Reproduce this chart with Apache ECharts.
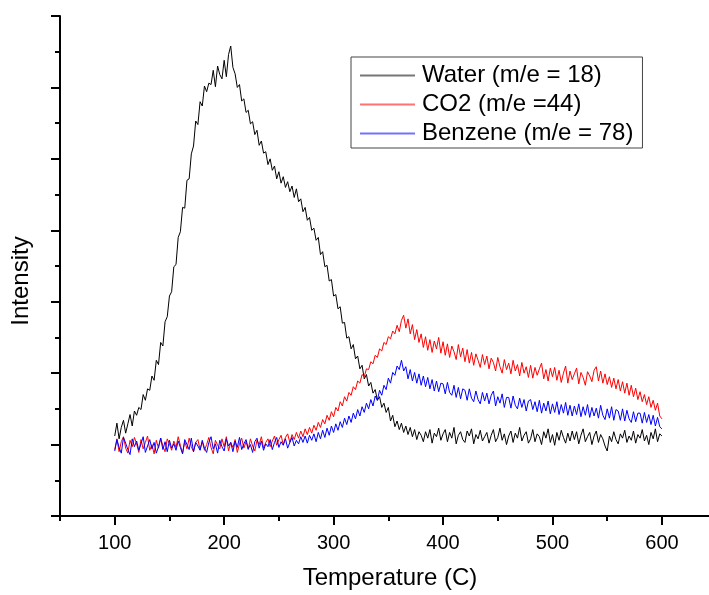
<!DOCTYPE html>
<html>
<head>
<meta charset="utf-8">
<script src="https://cdn.jsdelivr.net/npm/echarts@6/dist/echarts.min.js"></script>
<style>
html,body{margin:0;padding:0;background:#fff;}
#chart{width:709px;height:595px;}
</style>
</head>
<body>
<div id="chart"></div>
<script>
// Sampling grid of the temperature axis (°C)
const tempStart = 100;
const tempStep = 2;

const xTickLabels = [100, 200, 300, 400, 500, 600];
const xMinorTicks = [50, 150, 250, 350, 450, 550];

const seriesNames = ['Water (m/e = 18)', 'CO2 (m/e =44)', 'Benzene (m/e = 78)'];
const seriesColors = ['#000000', '#ff0000', '#0000ff'];
const legendLineColors = ['#777777', '#ff7373', '#7373ff'];

// Intensity (arbitrary units), one value per 2 °C from 100 to 600
const water = [
  112,130,108,124,134,116,129,142,126,147,
  141,152,149,170,162,178,176,196,190,218,
  212,243,238,272,279,308,314,349,352,390,
  398,432,431,470,472,507,518,553,548,580,
  574,602,594,606,604,624,601,630,618,612,
  638,615,646,658,628,619,600,604,581,584,
  565,568,549,552,534,540,519,525,508,510,
  492,500,484,490,472,482,466,475,460,468,
  454,462,446,458,440,444,426,432,414,418,
  400,403,386,390,366,370,349,351,329,331,
  308,310,290,293,270,271,249,251,234,240,
  220,224,206,211,192,198,182,187,172,177,
  162,167,152,158,145,152,133,141,125,133,
  121,130,117,126,114,124,111,121,107,118,
  113,104,118,109,121,102,116,111,123,106,
  115,121,104,117,109,124,101,113,118,107,
  103,119,112,122,101,114,108,120,105,111,
  117,102,113,121,104,110,123,106,115,100,
  112,119,103,116,109,124,105,113,118,102,
  108,121,104,115,111,100,118,109,122,103,
  114,99,117,106,120,110,102,116,105,119,
  107,118,101,113,122,104,111,117,100,112,
  119,103,114,108,98,91,112,104,118,107,
  101,115,109,120,103,112,106,119,102,114,
  109,121,105,113,100,117,108,122,104,115,
  112
];

const co2 = [
  93,108,90,104,111,95,88,106,97,110,
  101,89,107,94,103,112,92,100,87,106,
  95,109,98,90,108,101,92,105,96,111,
  99,88,104,94,109,97,90,103,107,93,
  104,92,100,110,96,87,106,99,94,108,
  97,111,91,103,96,107,89,101,109,95,
  104,93,108,98,91,106,100,111,95,103,
  108,97,105,112,99,107,113,100,110,115,
  103,114,107,117,109,119,111,122,114,124,
  116,127,120,131,124,135,129,141,134,146,
  139,152,147,160,154,167,161,173,169,181,
  177,189,186,198,195,206,205,216,213,225,
  222,234,231,243,240,251,248,259,255,267,
  258,274,281,263,276,255,268,247,261,243,
  255,236,251,232,247,229,245,234,250,228,
  244,225,241,222,238,230,219,240,223,235,
  216,233,214,229,211,227,218,208,226,212,
  224,206,221,215,203,222,209,200,219,205,
  214,199,218,203,212,196,215,200,209,194,
  211,193,208,197,206,214,192,205,189,207,
  195,208,190,204,187,200,210,186,203,191,
  199,207,185,201,194,183,202,196,188,204,
  209,189,203,186,199,184,195,180,193,178,
  191,175,188,172,186,169,183,167,179,163,
  174,160,170,156,167,152,162,148,158,140,
  136
];

const benzene = [
  91,107,96,88,110,102,93,86,108,97,
  105,92,101,111,89,98,107,94,103,88,
  97,109,93,104,90,106,95,101,92,105,
  96,87,107,100,93,109,90,103,98,92,
  106,95,89,103,111,94,101,88,106,97,
  91,108,98,103,90,105,96,110,93,101,
  107,94,100,89,104,109,95,105,92,101,
  97,107,93,103,110,96,104,99,108,95,
  103,110,98,106,101,111,103,112,102,113,
  106,115,104,117,108,120,110,123,113,126,
  117,129,120,132,124,137,128,140,131,144,
  136,149,140,153,145,158,150,163,154,168,
  162,176,169,183,177,193,186,201,197,210,
  205,218,203,209,192,205,189,201,186,199,
  183,196,181,194,178,191,175,189,174,186,
  185,171,187,173,169,183,166,180,164,178,
  176,162,178,165,160,175,163,157,173,161,
  172,157,169,175,154,167,158,171,152,166,
  166,151,168,155,150,165,152,163,147,161,
  163,149,160,146,162,144,158,147,161,143,
  157,145,160,142,156,144,159,141,155,140,
  154,142,157,139,153,141,156,138,152,140,
  151,137,155,141,135,150,137,153,134,149,
  147,134,150,133,148,136,131,146,132,144,
  144,130,145,131,142,128,141,126,138,125,
  122
];

function pairs(vals) {
  return vals.map((v, i) => [tempStart + i * tempStep, v]);
}

const FONT = "'Liberation Sans', Arial, sans-serif";
const chart = echarts.init(document.getElementById('chart'), null, {renderer: 'canvas'});

const seriesData = [water, co2, benzene];

chart.setOption({
  animation: false,
  backgroundColor: '#ffffff',
  color: seriesColors,
  textStyle: {fontFamily: FONT, color: '#000'},
  grid: {left: 60, right: 0, top: 16, bottom: 76, containLabel: false},
  legend: {
    orient: 'vertical',
    left: 351,
    top: 57,
    padding: [4, 9, 0, 9],
    itemGap: 0,
    itemWidth: 55,
    itemHeight: 2,
    icon: 'rect',
    borderColor: '#444',
    borderWidth: 1,
    backgroundColor: '#fff',
    textStyle: {fontFamily: FONT, fontSize: 24, color: '#000', lineHeight: 29, padding: [0, 0, 0, 2]},
    data: seriesNames.map((n, i) => ({
      name: n,
      itemStyle: {color: legendLineColors[i], borderColor: legendLineColors[i], borderWidth: 0},
      lineStyle: {color: legendLineColors[i], width: 0}
    }))
  },
  xAxis: [{
    type: 'value',
    min: 50,
    max: 643,
    name: 'Temperature (C)',
    nameLocation: 'middle',
    nameGap: 50,
    nameTextStyle: {fontFamily: FONT, fontSize: 24, color: '#000', padding: [0, 0, 0, 11]},
    axisLine: {show: true, lineStyle: {color: '#000', width: 2}},
    axisTick: {show: true, length: 9, inside: false, customValues: xTickLabels, lineStyle: {color: '#000', width: 2}},
    axisLabel: {show: true, customValues: xTickLabels, fontFamily: FONT, fontSize: 20, color: '#000', margin: 17},
    splitLine: {show: false}
  }, {
    type: 'value',
    min: 50,
    max: 643,
    position: 'bottom',
    axisLine: {show: false},
    axisTick: {show: true, length: 5, customValues: xMinorTicks, lineStyle: {color: '#000', width: 2}},
    axisLabel: {show: false},
    splitLine: {show: false}
  }],
  yAxis: {
    type: 'value',
    min: 0,
    max: 700,
    interval: 100,
    name: 'Intensity',
    nameLocation: 'middle',
    nameGap: 27,
    nameTextStyle: {fontFamily: FONT, fontSize: 24, color: '#000', padding: [0, 30, 0, 0]},
    axisLine: {show: true, lineStyle: {color: '#000', width: 2}},
    axisTick: {show: true, length: 9, lineStyle: {color: '#000', width: 2}},
    minorTick: {show: true, splitNumber: 2, length: 5, lineStyle: {color: '#000', width: 2}},
    axisLabel: {show: false},
    splitLine: {show: false},
    minorSplitLine: {show: false}
  },
  series: seriesNames.map((n, i) => ({
    name: n,
    type: 'line',
    data: pairs(seriesData[i]),
    symbol: 'none',
    showSymbol: false,
    itemStyle: {color: seriesColors[i]},
    lineStyle: {color: seriesColors[i], width: 1},
    z: 2 + i
  }))
});
</script>
</body>
</html>
